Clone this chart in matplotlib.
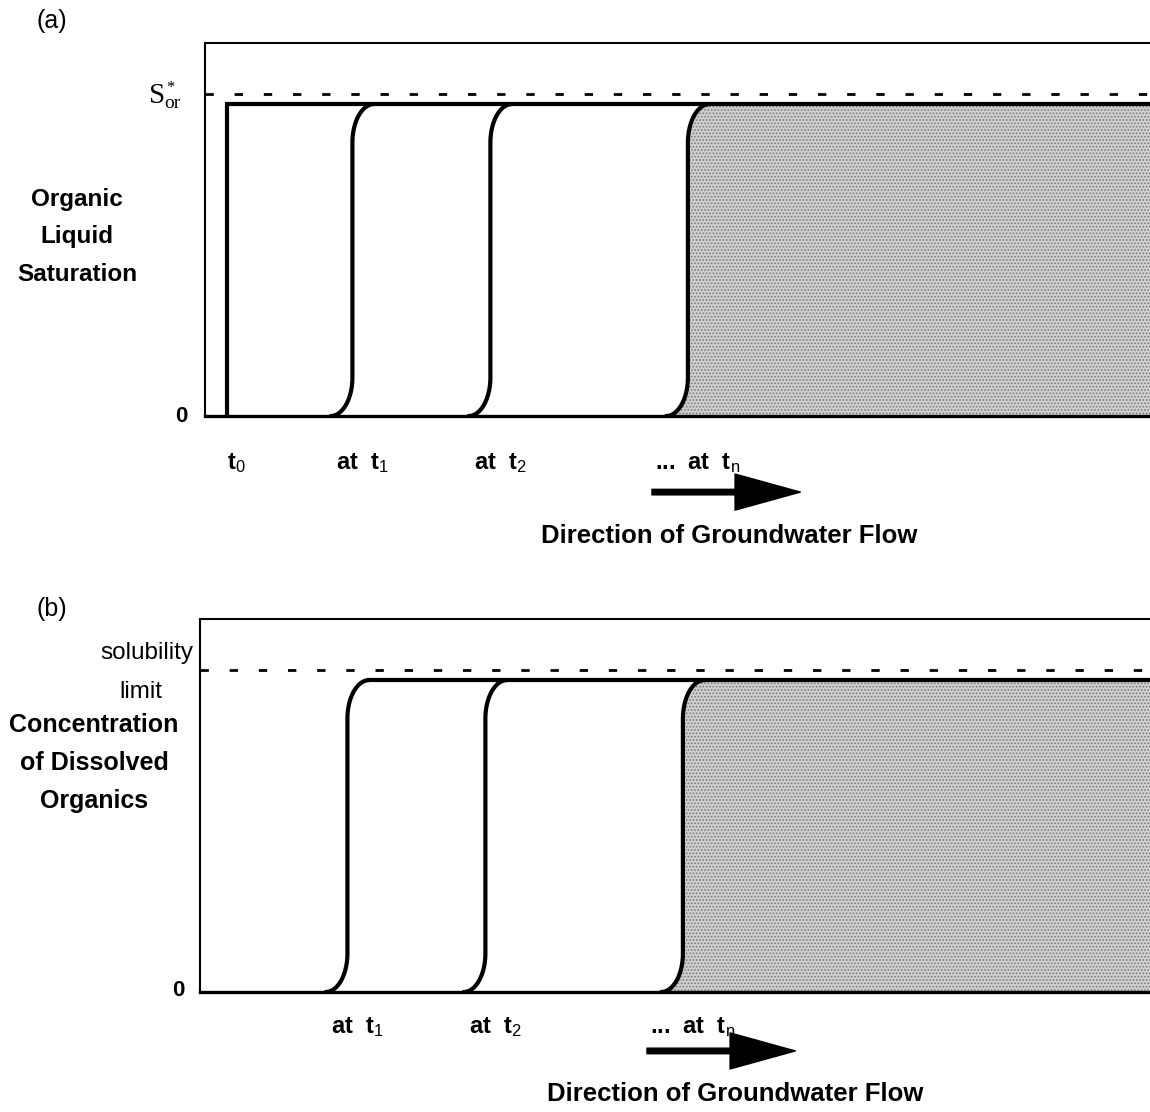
import numpy as np
import matplotlib.pyplot as plt
from matplotlib.patches import FancyArrowPatch

plt.rcParams['font.family'] = ['Liberation Sans', 'DejaVu Sans']
plt.rcParams['mathtext.fontset'] = 'custom'
plt.rcParams['mathtext.rm'] = 'Liberation Sans'
plt.rcParams['mathtext.it'] = 'Liberation Sans'
plt.rcParams['hatch.linewidth'] = 0.8

# positions of the dissolution fronts (distance along flow, arbitrary units)
t0_pos = 2.3
fronts_a = [15.6, 30.2, 51.1]
fronts_b = [15.6, 30.2, 51.1]
labels_a = ['t$_0$', 'at  t$_1$', 'at  t$_2$', '...  at  t$_\\mathrm{n}$']
labels_b = ['at  t$_1$', 'at  t$_2$', '...  at  t$_\\mathrm{n}$']
max_level = 1.0    # S*_or  /  solubility limit
plateau = 0.97     # level reached behind the front
flow_arrow = (47.3, 63.0)

W, H = 1150, 1112
PX = 9.45          # pixels per x unit
fig = plt.figure(figsize=(W / 100, H / 100), dpi=100)


def make_axes(left_px, bottom_px):
    width_px = W - left_px + 20
    ax = fig.add_axes([left_px / W, 1 - bottom_px / H, width_px / W, 373 / H])
    ax.set_xlim(0, width_px / PX)
    ax.set_ylim(0, 1.16)
    ax.set_xticks([])
    ax.set_yticks([])
    ax.spines['right'].set_visible(False)
    ax.spines['left'].set_linewidth(1.5)
    ax.spines['top'].set_linewidth(1.5)
    ax.spines['bottom'].set_linewidth(2.4)
    return ax


def front_curve(xv, top, rx=2.3, ry=0.12, n=40):
    th = np.linspace(0, np.pi / 2, n)
    xb = xv - rx + rx * np.sin(th)
    yb = ry - ry * np.cos(th)
    xt = xv + rx - rx * np.cos(th)
    yt = top - ry + ry * np.sin(th)
    return np.r_[xb, xt], np.r_[yb, yt]


def draw_panel(ax, fronts, labels, start_x, with_t0, label_y, arrow_y):
    xmax = ax.get_xlim()[1]
    ax.plot([0, xmax], [max_level, max_level], color='k', lw=2,
            linestyle=(0, (3, 7.5)), solid_capstyle='butt')
    if with_t0:
        ax.plot([start_x, start_x, xmax], [0, plateau, plateau], color='k',
                lw=3, solid_joinstyle='miter')
    else:
        ax.plot([start_x + 2.3, xmax], [plateau, plateau], color='k', lw=3)
    for xf in fronts:
        xs, ys = front_curve(xf, plateau)
        ax.plot(xs, ys, color='k', lw=3, solid_capstyle='round')
    xs, ys = front_curve(fronts[-1], plateau)
    ax.fill_betweenx(ys, xs, xmax, facecolor='#cfcfcf', edgecolor='#7a7a7a',
                     hatch='.....', linewidth=0, zorder=0)
    tr = ax.get_xaxis_transform()
    label_x = ([t0_pos] if with_t0 else []) + fronts
    for x, lab in zip(label_x, labels):
        ax.text(x + 1.0, label_y, lab, transform=tr, ha='center', va='center',
                fontsize=17, fontweight='bold')
    ax.add_patch(FancyArrowPatch((flow_arrow[0], arrow_y), (flow_arrow[1], arrow_y),
                                 transform=tr, clip_on=False, color='k',
                                 arrowstyle='simple,head_length=4.7,head_width=2.6,tail_width=0.4',
                                 mutation_scale=10, shrinkA=0, shrinkB=0))


ax_a = make_axes(205, 416)
draw_panel(ax_a, fronts_a, labels_a, t0_pos, True, -0.125, -0.204)
ax_b = make_axes(200, 992)
draw_panel(ax_b, fronts_b, labels_b, fronts_b[0], False, -0.095, -0.158)


def ftext(x, y, s, **kw):
    fig.text(x / W, 1 - y / H, s, **kw)


# panel (a) annotations
ftext(52, 21, '(a)', fontsize=18, ha='center', va='center')
ftext(165, 96, 'S', fontsize=21, family='Liberation Serif', ha='right', va='center')
ftext(166, 88, '*', fontsize=12, family='Liberation Serif', ha='left', va='center')
ftext(164, 104, 'or', fontsize=14, family='Liberation Serif', ha='left', va='center')
ftext(77, 237, 'Organic\nLiquid\nSaturation', fontsize=17.5, fontweight='bold',
      ha='center', va='center', linespacing=1.8)
ftext(181, 416, '0', fontsize=16, fontweight='bold', ha='center', va='center')
ftext(729, 536, 'Direction of Groundwater Flow', fontsize=18.5, fontweight='bold',
      ha='center', va='center')

# panel (b) annotations
ftext(52, 609, '(b)', fontsize=18, ha='center', va='center')
ftext(193, 653, 'solubility', fontsize=17.5, ha='right', va='center')
ftext(141, 692, 'limit', fontsize=17.5, ha='center', va='center')
ftext(94, 763, 'Concentration\nof Dissolved\nOrganics', fontsize=18, fontweight='bold',
      ha='center', va='center', linespacing=1.75)
ftext(178, 990, '0', fontsize=16, fontweight='bold', ha='center', va='center')
ftext(735, 1094, 'Direction of Groundwater Flow', fontsize=18.5, fontweight='bold',
      ha='center', va='center')

fig.savefig('out.png', dpi=100)
